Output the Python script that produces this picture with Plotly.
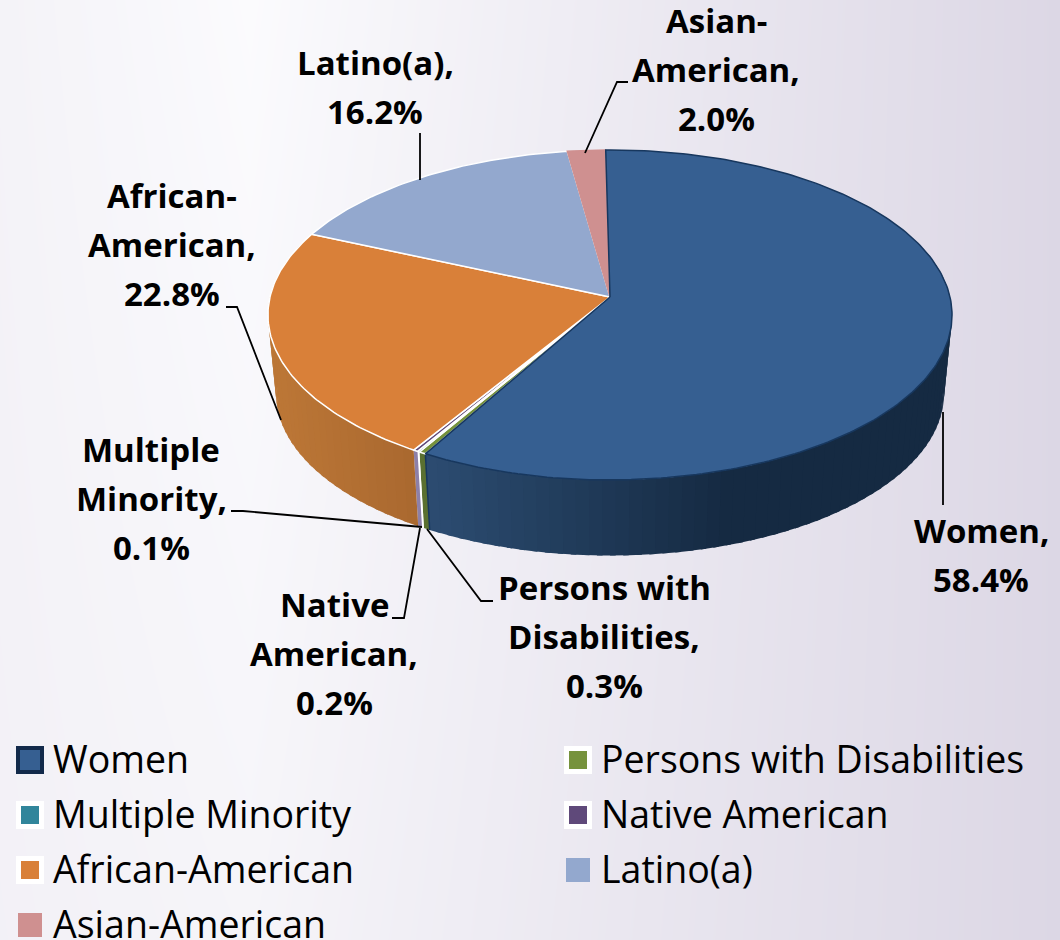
import numpy as np
import plotly.graph_objects as go

# slices, clockwise from the top
names = ['Women', 'Persons with Disabilities', 'Multiple Minority', 'Native American',
         'African-American', 'Latino(a)', 'Asian-American']
values = [58.4, 0.3, 0.1, 0.2, 22.8, 16.2, 2.0]
colors = ['#365f91', '#76923c', '#31859b', '#5f497a', '#d98039', '#93a8ce', '#cf9090']
edges = ['#17375e', '#ffffff', '#ffffff', '#ffffff', '#ffffff', '#ffffff', '#cf9090']
wall_left = ['#2c4c71', '#5a7030', '#ffffff', '#8d80a8', '#bb7636', '#93a8ce', '#cf9090']
wall_right = ['#152a42', '#5a7030', '#ffffff', '#8d80a8', '#a9682f', '#93a8ce', '#cf9090']

label_lines = [['Women,'], ['Persons with', 'Disabilities,'], ['Multiple', 'Minority,'],
               ['Native', 'American,'], ['African-', 'American,'], ['Latino(a),'],
               ['Asian-', 'American,']]
label_x = [981, 604, 151, 334, 172, 375, 716]
label_y = [530, 587, 449, 604, 195, 62, 20]

leader_x = [[943, 943], [427, 481, 493], [231, 243, 422], [392, 404, 420],
            [226, 237, 281], [420, 420], [628, 617, 585]]
leader_y = [[412, 505], [529, 601, 601], [511, 511, 527], [618, 618, 528],
            [307, 307, 420], [133, 180], [82, 82, 153]]

legend_x = [30, 578, 30, 578, 30, 578, 30]
legend_y = [760, 760, 815, 815, 870, 870, 925]

# page background stops
bg_x = [0, 250, 600, 1060]
bg_y = [0, 940]
bg_z = [[0.25, 0.03, 0.45, 1.0], [0.30, 0.20, 0.55, 1.0]]


def rim(theta, cx, cy, a, b):
    # perspective view of a circle: the pie centre sits above the middle of the ellipse
    k = 0.109
    d = 1 + k * np.cos(theta)
    return cx + a * np.sin(theta) / d, cy - b * np.cos(theta) / d


def blend(dark, light, f):
    c0 = [int(dark[n:n + 2], 16) for n in (1, 3, 5)]
    c1 = [int(light[n:n + 2], 16) for n in (1, 3, 5)]
    r, g, b = [round(p + (q - p) * f) for p, q in zip(c0, c1)]
    return f'rgb({r},{g},{b})'


fig = go.Figure()
fig.add_trace(go.Heatmap(x=bg_x, y=bg_y, z=bg_z, zsmooth='best', showscale=False, hoverinfo='skip',
                         colorscale=[[0, '#fcfcfe'], [1, '#dcd7e5']], zmin=0, zmax=1))

start = np.radians(-0.8)
bounds = start + np.radians(np.cumsum([0] + values) * 3.6)

# side walls first, as thin strips that get darker towards the right
# each strip runs a little under the next one so no seams show
for i in range(len(values)):
    lo, hi = max(bounds[i], np.radians(70)), min(bounds[i + 1], np.radians(290))
    if hi <= lo:
        continue
    steps = max(1, int(np.degrees(hi - lo) / 2))
    ts = np.linspace(lo, hi, steps + 1)
    for j in range(steps):
        seg = np.linspace(ts[j], min(ts[j + 1] + 0.015, hi), 4)
        x1, y1 = rim(seg, 610, 297, 340, 163)
        x2, y2 = rim(seg[::-1], 610, 376, 332, 160)
        xm = x1.mean()
        if i == 0:
            f = 1 - min(1, max(0, (xm - 425) / 300))
        else:
            f = 1 - min(1, max(0, (xm - 280) / 135))
        fig.add_trace(go.Scatter(x=list(x1) + list(x2), y=list(y1) + list(y2), mode='lines', fill='toself',
                                 fillcolor=blend(wall_right[i], wall_left[i], f), line=dict(width=0),
                                 hoverinfo='skip', showlegend=False))

# dark edge where the women wall ends
xa, ya = rim(bounds[1], 610, 297, 340, 163)
xb, yb = rim(bounds[1], 610, 376, 332, 160)
fig.add_trace(go.Scatter(x=[xa, xb], y=[ya, yb], mode='lines', line=dict(color=edges[0], width=1.5),
                         hoverinfo='skip', showlegend=False))

# top faces, women last so its dark edge stays on top
for i in list(range(1, len(values))) + [0]:
    ts = np.linspace(bounds[i], bounds[i + 1], max(3, int(values[i] * 4)))
    x, y = rim(ts, 610, 297, 340, 163)
    fig.add_trace(go.Scatter(x=[610] + list(x) + [610], y=[297] + list(y) + [297], mode='lines', fill='toself',
                             fillcolor=colors[i], line=dict(color=edges[i], width=1.5),
                             name=names[i], hovertemplate=f'{names[i]}: {values[i]}%<extra></extra>',
                             showlegend=False))

# leader lines
for xs, ys in zip(leader_x, leader_y):
    fig.add_trace(go.Scatter(x=xs, y=ys, mode='lines', line=dict(color='black', width=1.8),
                             hoverinfo='skip', showlegend=False))

# data labels, one annotation per line for the wide line spacing
for i in range(len(values)):
    lines = label_lines[i] + [f'{values[i]:.1f}%']
    for n, line in enumerate(lines):
        fig.add_annotation(x=label_x[i], y=label_y[i] + 49 * n, text=f'<b>{line}</b>', showarrow=False,
                           font=dict(family='Open Sans', size=33, color='black'))

# legend
for i in range(len(values)):
    plain = names[i] in ('Latino(a)', 'Asian-American')
    if i == 0:
        mark = dict(size=24, color=colors[i], line=dict(color='#122a4a', width=4))
    elif plain:
        mark = dict(size=24, color=colors[i], line=dict(color=colors[i], width=0))
    else:
        mark = dict(size=23, color=colors[i], line=dict(color='white', width=5))
    fig.add_trace(go.Scatter(x=[legend_x[i]], y=[legend_y[i]], mode='markers', hoverinfo='skip', showlegend=False,
                             marker=dict(symbol='square', **mark)))
    fig.add_annotation(x=legend_x[i] + 21, y=legend_y[i] - 2, text=names[i], showarrow=False, xanchor='left',
                       font=dict(family='Open Sans', size=37.5, color='black'))

fig.update_layout(
    width=1060, height=940,
    margin=dict(l=0, r=0, t=0, b=0),
    paper_bgcolor='#f4f3f8',
    plot_bgcolor='rgba(0,0,0,0)',
    showlegend=False,
    xaxis=dict(range=[0, 1060], visible=False, fixedrange=True),
    yaxis=dict(range=[940, 0], visible=False, fixedrange=True),
)
fig.write_html("out.html", config={'displayModeBar': False}, post_script="document.body.style.margin='0';")
